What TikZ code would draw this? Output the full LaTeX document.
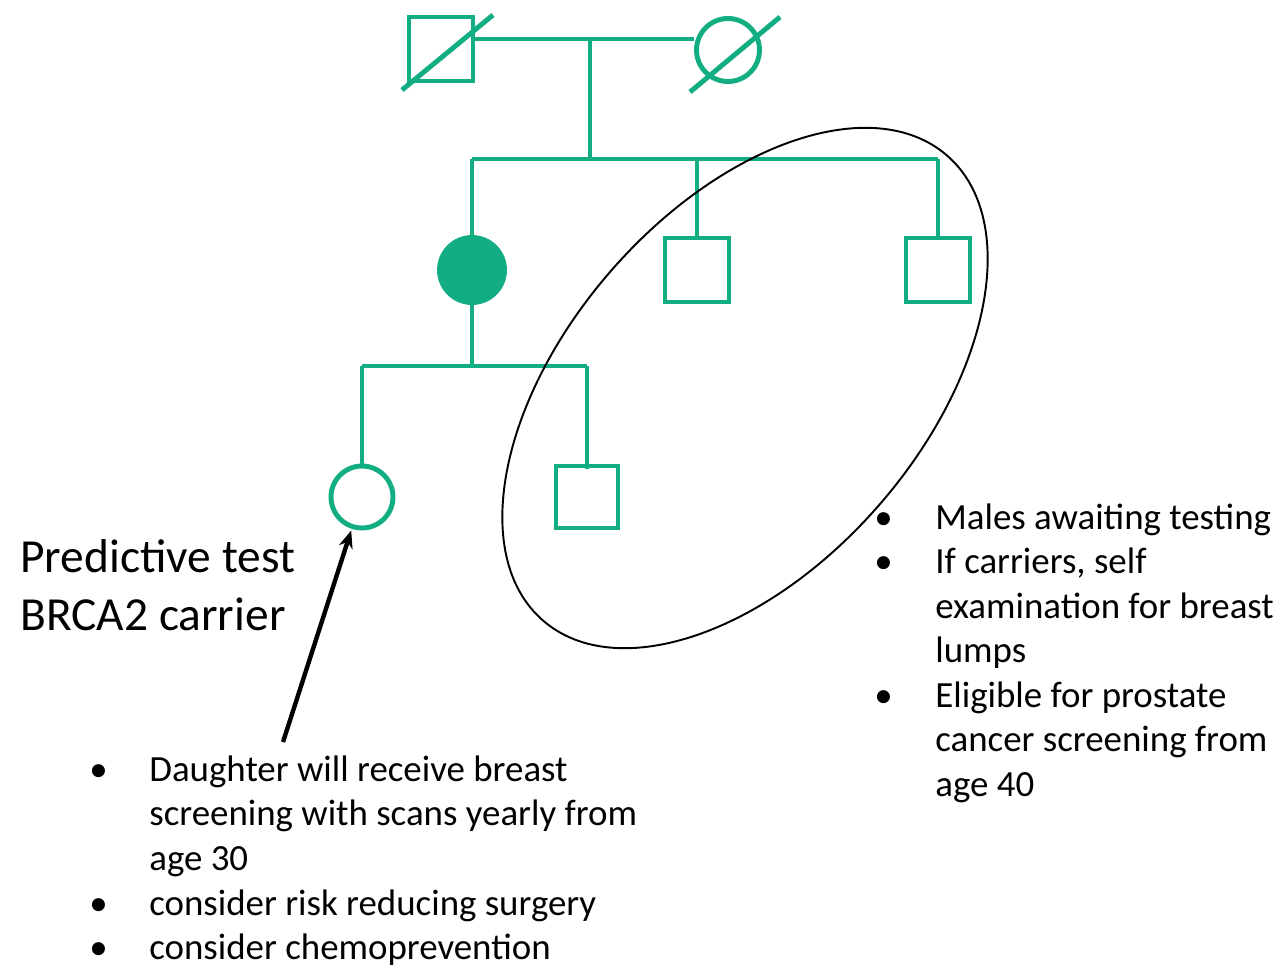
\documentclass[tikz,border=0pt]{standalone}
\usepackage{
	fontspec,			% Fonts
	xcolor				% Colours
}
\usetikzlibrary{arrows.meta}
\setmainfont{Carlito}
\definecolor{pedgreen}{HTML}{12AD82}

\begin{document}
\begin{tikzpicture}[x=0.02cm, y=-0.02cm,
		pedline/.style={draw=pedgreen, line width=2.8pt},
		male/.style={pedline, rectangle, minimum size=1.28cm, inner sep=0pt},
		female/.style={pedline, circle, minimum size=1.26cm, inner sep=0pt},
		bigtxt/.style={font=\fontsize{27}{32.5}\selectfont, align=left, inner sep=0pt, anchor=base west},
		listtxt/.style={font=\fontsize{21}{25.3}\selectfont, align=left, inner sep=0pt, anchor=base west}]
		\useasboundingbox (0,0) rectangle (1281,964);
		% grandparents
		\node[male] (gf) at (441,49) {};
		\node[female] (gm) at (728,50) {};
		\draw[pedline] ([shift={(-39,41)}]gf.center) -- ([shift={(52,-34)}]gf.center);
		\draw[pedline] ([shift={(-38,42)}]gm.center) -- ([shift={(52,-33)}]gm.center);
		\coordinate (mar) at (590,39);
		\coordinate (sib) at (590,159);
		\draw[pedline] (gf.east |- mar) -- (gm.west |- mar);
		\draw[pedline] (mar) -- (sib);
		% children
		\node[female, fill=pedgreen, minimum size=1.3cm] (mum) at (472,270) {};
		\node[male] (son1) at (697,270) {};
		\node[male] (son2) at (938,270) {};
		\draw[pedline] (mum.north |- sib) -- (son2.north |- sib);
		\draw[pedline] (mum.north |- sib) -- (mum.north);
		\draw[pedline] (son1.north |- sib) -- (son1.north);
		\draw[pedline] (son2.north |- sib) -- (son2.north);
		% grandchildren
		\node[female, minimum size=1.24cm] (girl) at (362,497) {};
		\node[male, minimum size=1.24cm] (boy) at (587,497) {};
		\coordinate (sib2) at (470,366);
		\draw[pedline] (mum.south) -- (mum.south |- sib2);
		\draw[pedline] (girl.north |- sib2) -- (boy.north |- sib2);
		\draw[pedline] (girl.north |- sib2) -- (girl.north);
		\draw[pedline] (boy.north |- sib2) -- ([yshift=-3pt]boy.north);
		% males in the ring
		\draw[line width=1.1pt, rotate around={49:(745,388)}] (745,388) ellipse [x radius=308, y radius=178];
		% arrow and text
		\coordinate (tail) at (283,742);
		\draw[-{Stealth[length=10pt,width=8pt]}, line width=2.5pt, shorten >=1pt] (tail) -- (girl);
		\node[bigtxt] (pred) at (20,630) {Predictive test\\BRCA2 carrier};
		\node[listtxt] (b1) at (874,529) {\textbullet};
		\node[listtxt] (t1) at (935,529) {Males awaiting testing};
		\node[listtxt] (b2) at (874,573.5) {\textbullet};
		\node[listtxt] (t2) at (935,662.5) {If carriers, self\\examination for breast\\lumps};
		\node[listtxt] (b3) at (874,707) {\textbullet};
		\node[listtxt] (t3) at (935,796) {Eligible for prostate\\cancer screening from\\age 40};
		\node[listtxt] (d1) at (89,781) {\textbullet};
		\node[listtxt] (e1) at (149,870.4) {Daughter will receive breast\\screening with scans yearly from\\age 30};
		\node[listtxt] (d2) at (89,915) {\textbullet};
		\node[listtxt] (e2) at (149,915) {consider risk reducing surgery};
		\node[listtxt] (d3) at (89,959) {\textbullet};
		\node[listtxt] (e3) at (149,959) {consider chemoprevention};
	\end{tikzpicture}
\end{document}
